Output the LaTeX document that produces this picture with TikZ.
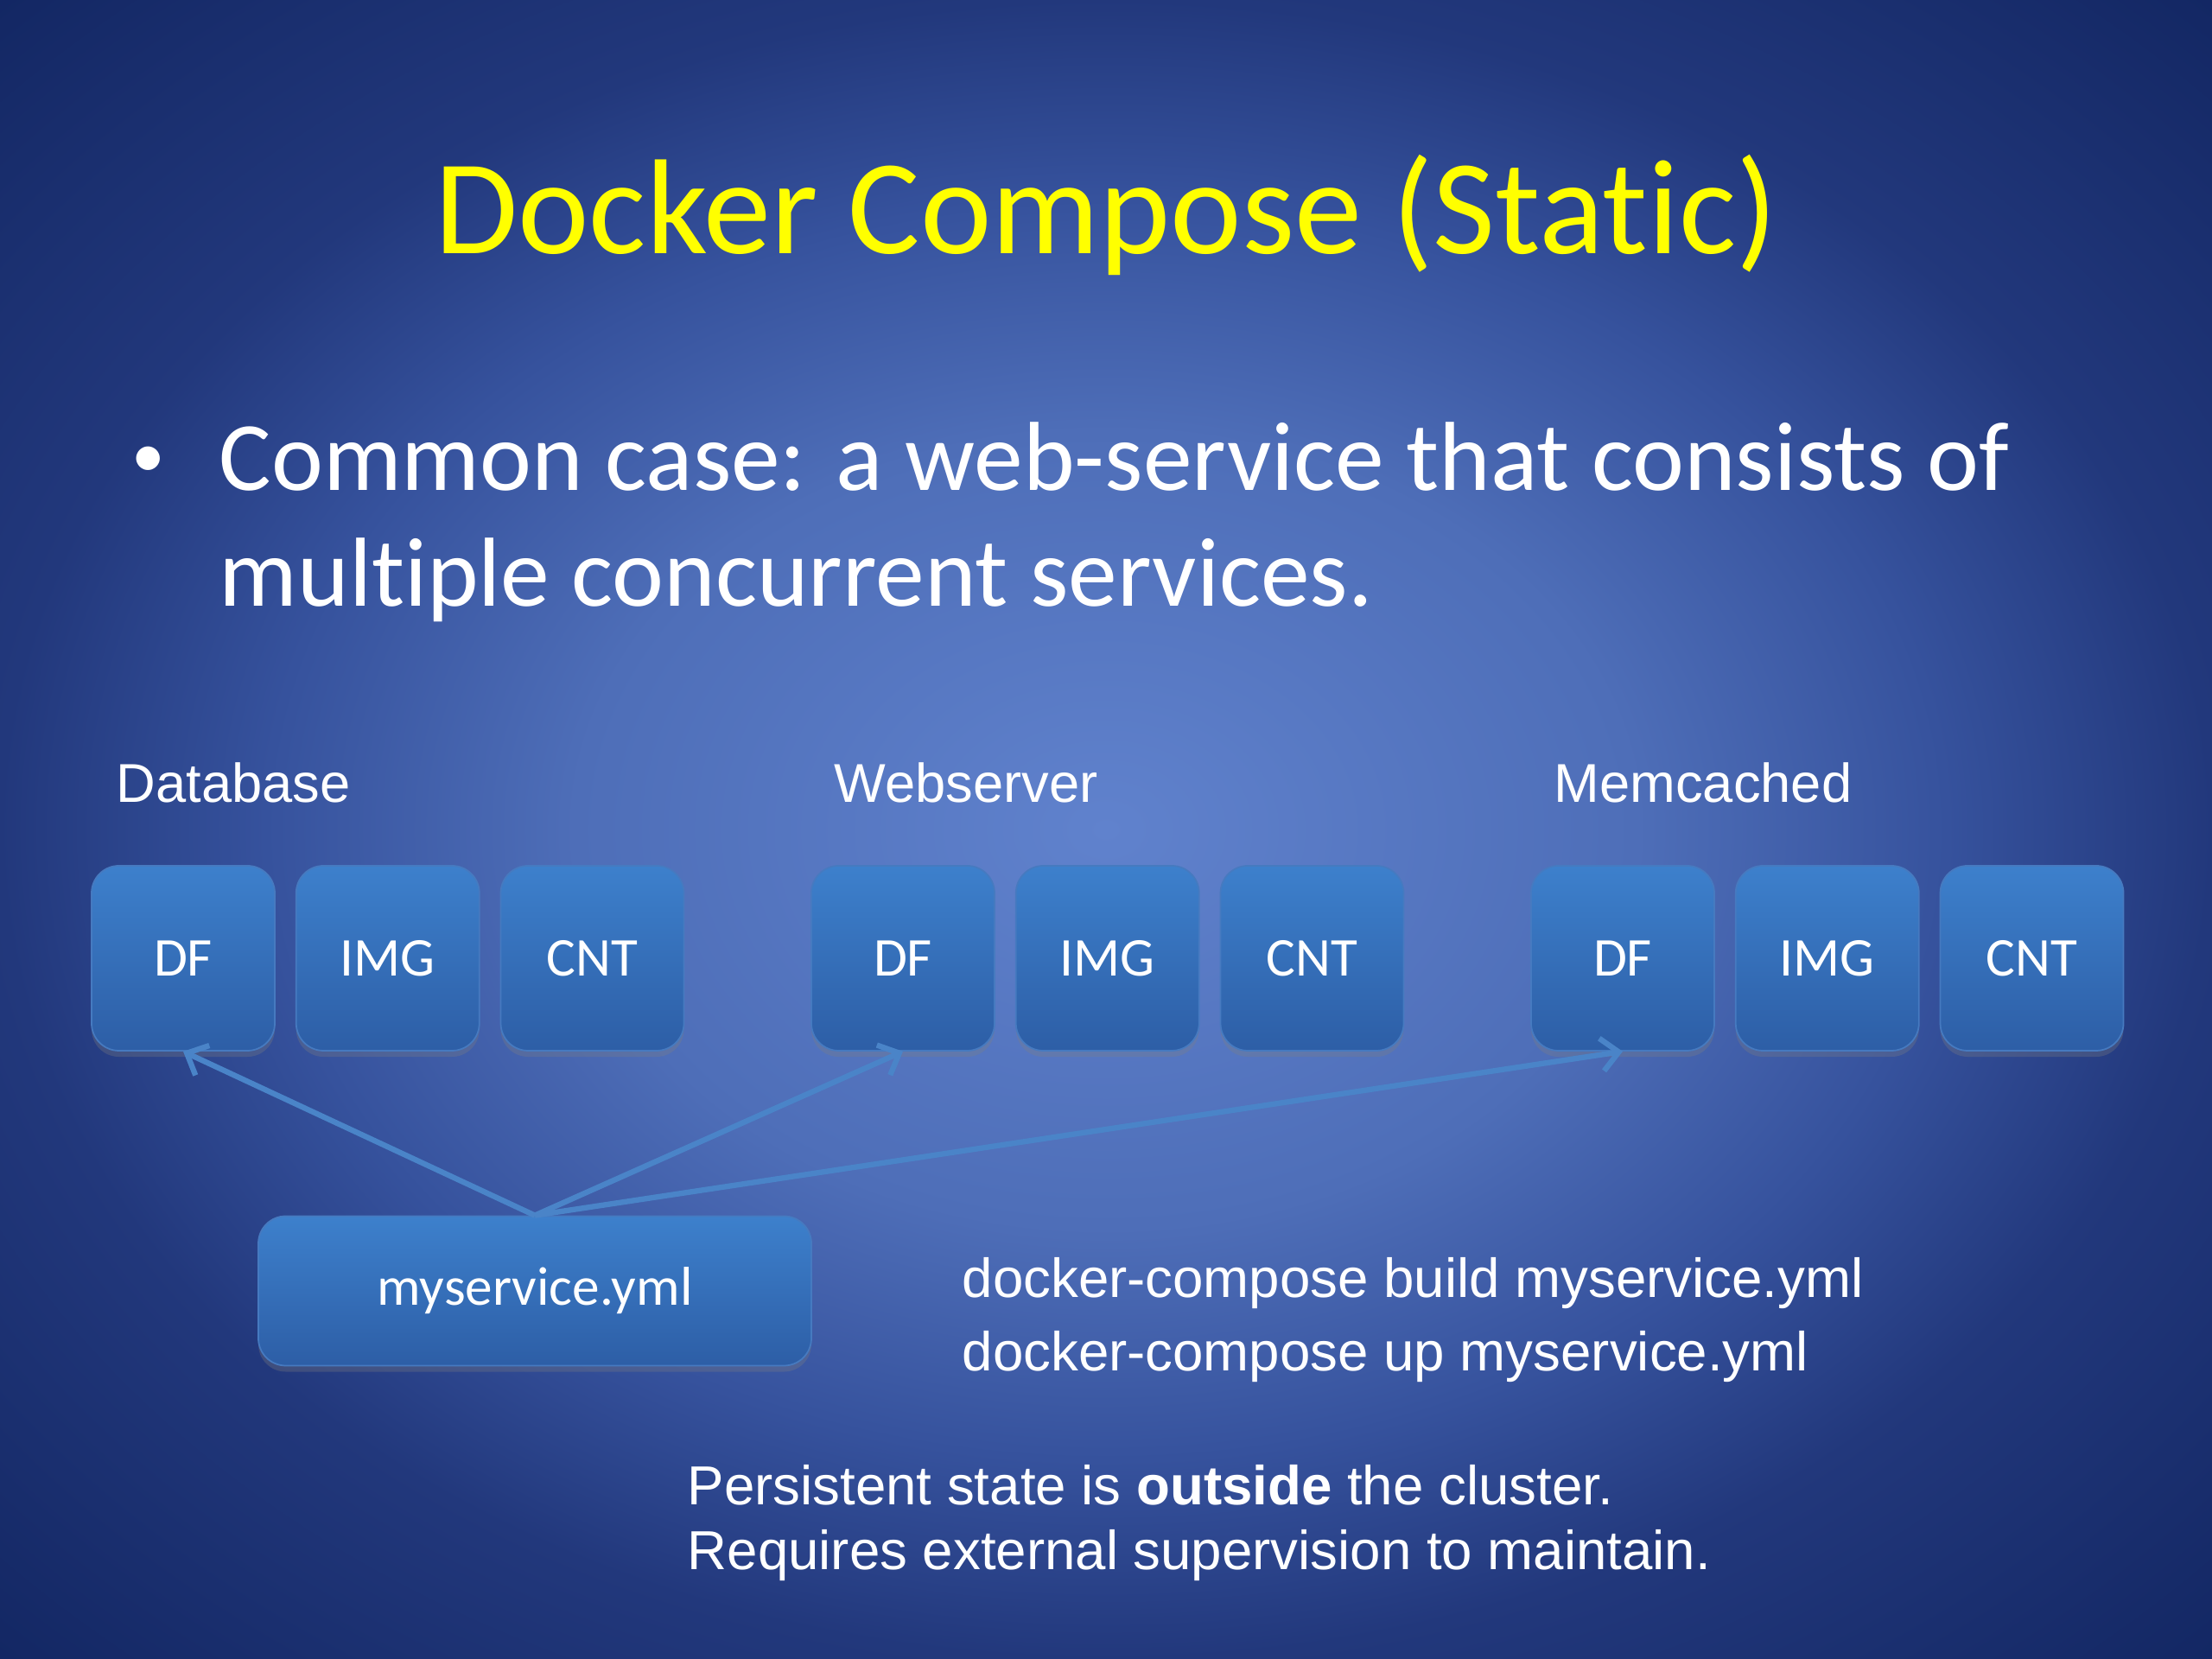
\documentclass[tikz,border=0pt]{standalone}
\usepackage{fontspec}
\setmainfont{Carlito}[Ligatures={NoCommon}]
\newfontfamily\arialfont{Liberation Sans}
\usepackage{xcolor}
\usepackage{tikz}
\usetikzlibrary{arrows.meta, positioning, calc, shadows}
\definecolor{bgcenter}{RGB}{96,130,205}
\definecolor{bgmid}{RGB}{78,110,184}
\definecolor{bgouter}{RGB}{54,82,157}
\definecolor{bgedge}{RGB}{34,56,124}
\definecolor{bgcorner}{RGB}{18,38,98}
\definecolor{boxtop}{RGB}{61,128,204}
\definecolor{boxbot}{RGB}{45,94,166}
\definecolor{boxedge}{RGB}{70,122,192}
\definecolor{linkblue}{RGB}{74,132,200}
\definecolor{titleyellow}{RGB}{255,255,0}
\pgfdeclareradialshading{slidebg}{\pgfpoint{0bp}{0bp}}{color(0bp)=(bgcenter); color(12bp)=(bgmid); color(19bp)=(bgouter); color(25bp)=(bgedge); color(36bp)=(bgcorner); color(50bp)=(bgcorner)}
\tikzset{
  svcbox/.style={rectangle, draw=boxedge, top color=boxtop, bottom color=boxbot,
    minimum width=2.12cm, minimum height=2.14cm, rounded corners=9pt,
    line width=0.5pt, text=white, font=\fontsize{18}{22}\selectfont,
    drop shadow={shadow xshift=0pt, shadow yshift=-2pt, opacity=0.3}},
  ymlbox/.style={svcbox, minimum width=6.4cm, minimum height=1.73cm},
  titletext/.style={text=titleyellow, font=\fontsize{44.5}{52}\selectfont, inner sep=0pt},
  bullettext/.style={text=white, font=\fontsize{32.3}{38}\selectfont, inner sep=0pt},
  grouplabel/.style={text=white, font=\arialfont\fontsize{18}{22}\selectfont, inner sep=0pt},
  cmdtext/.style={text=white, font=\arialfont\fontsize{18.1}{22}\selectfont, inner sep=0pt},
  linkarrow/.style={-{Straight Barb[length=0.2cm, width=0.38cm]}, line width=1.8pt, color=linkblue}
}
\begin{document}
\begin{tikzpicture}
  % Slide background
  \shade[shading=slidebg] (0,0) rectangle (25.6,19.2);
  \useasboundingbox (0,0) rectangle (25.6,19.2);

  \node[titletext, anchor=base] (title) at (12.8,16.26) {Docker Compose (Static)};

  % Bullet point
  \node[text=white, font=\fontsize{22}{26}\selectfont, inner sep=0pt, anchor=base] (dot) at (1.72,13.67) {\textbullet};
  \node[bullettext, anchor=base west] (line1) at (2.53,13.52) {Common case: a web-service that consists of};
  \node[bullettext, anchor=base west] (line2) at (2.53,12.18) {multiple concurrent services.};

  % Service groups
  \node[grouplabel, anchor=base west] (dblabel) at (1.34,9.91) {Database};
  \node[svcbox] (dbdf) at (2.12,8.11) {DF};
  \node[svcbox, right=0.23cm of dbdf] (dbimg) {IMG};
  \node[svcbox, right=0.23cm of dbimg] (dbcnt) {CNT};

  \node[grouplabel, anchor=base west] (weblabel) at (9.65,9.91) {Webserver};
  \node[svcbox] (webdf) at (10.45,8.11) {DF};
  \node[svcbox, right=0.23cm of webdf] (webimg) {IMG};
  \node[svcbox, right=0.23cm of webimg] (webcnt) {CNT};

  \node[grouplabel, anchor=base west] (memlabel) at (17.98,9.91) {Memcached};
  \node[svcbox] (memdf) at (18.78,8.11) {DF};
  \node[svcbox, right=0.23cm of memdf] (memimg) {IMG};
  \node[svcbox, right=0.23cm of memimg] (memcnt) {CNT};

  \node[ymlbox] (yml) at (6.19,4.26) {myservice.yml};

  \draw[linkarrow] (yml.north) -- (dbdf.south);
  \draw[linkarrow] (yml.north) -- (webdf.south);
  \draw[linkarrow] (yml.north) -- (memdf.south);

  % Commands and notes
  \node[cmdtext, anchor=base west] (build) at (11.13,4.18) {docker-compose build myservice.yml};
  \node[cmdtext, anchor=base west] (up) at (11.13,3.33) {docker-compose up myservice.yml};
  \node[cmdtext, anchor=base west] (note1) at (7.95,1.78) {Persistent state is \textbf{outside} the cluster.};
  \node[cmdtext, anchor=base west] (note2) at (7.95,1.03) {Requires external supervision to maintain.};
\end{tikzpicture}
\end{document}
